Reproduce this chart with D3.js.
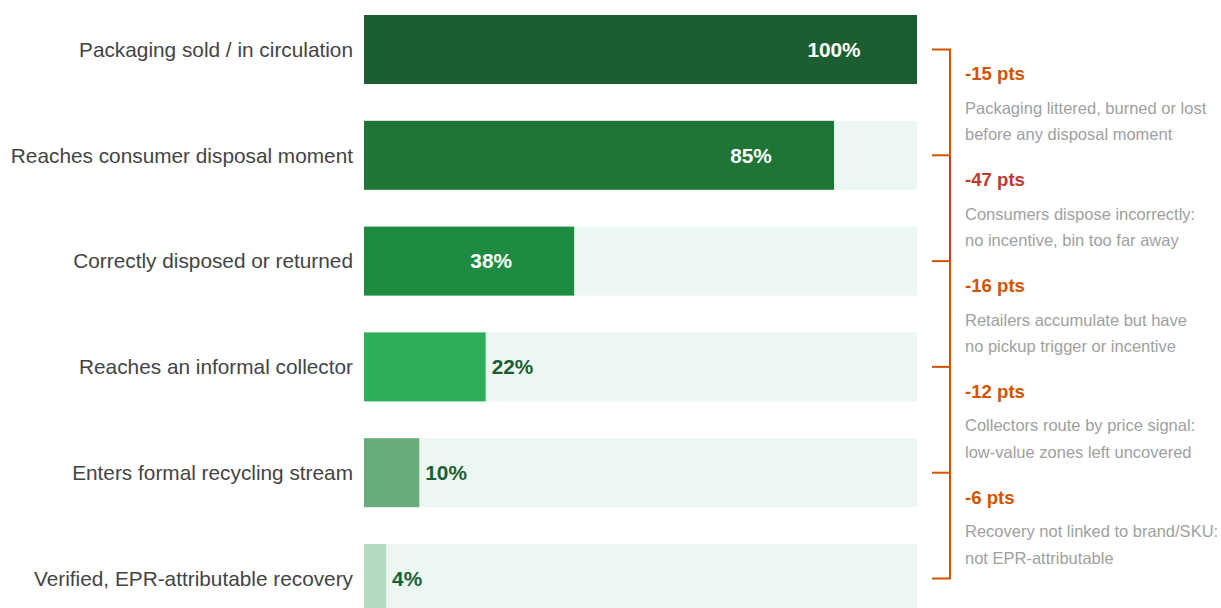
<!DOCTYPE html>
<html>
<head>
<meta charset="utf-8">
<script src="https://cdn.jsdelivr.net/npm/d3@7"></script>
<style>
  html, body { margin: 0; padding: 0; background: #fff; }
  svg { display: block; font-family: "Liberation Sans", Arial, sans-serif; }
</style>
</head>
<body>
<div id="chart"></div>
<script>
const stages = [
  "Packaging sold / in circulation",
  "Reaches consumer disposal moment",
  "Correctly disposed or returned",
  "Reaches an informal collector",
  "Enters formal recycling stream",
  "Verified, EPR-attributable recovery"
];
const shares = [100, 85, 38, 22, 10, 4];
const barColors = ["#1b5e31", "#1e7536", "#1d8c41", "#2eb058", "#68ab7d", "#b2dbbf"];

const dropLabels = ["-15 pts", "-47 pts", "-16 pts", "-12 pts", "-6 pts"];
const dropReasons = [
  ["Packaging littered, burned or lost", "before any disposal moment"],
  ["Consumers dispose incorrectly:", "no incentive, bin too far away"],
  ["Retailers accumulate but have", "no pickup trigger or incentive"],
  ["Collectors route by price signal:", "low-value zones left uncovered"],
  ["Recovery not linked to brand/SKU:", "not EPR-attributable"]
];

const width = 1221, height = 608;
const orange = "#d35400", red = "#c0392b";

const svg = d3.select("#chart").append("svg")
  .attr("width", width)
  .attr("height", height);

const x = d3.scaleLinear().domain([0, 100]).range([364, 917]);
const y = d3.scaleBand().domain(stages).range([15, 613]).paddingInner(0.348).paddingOuter(0);

const data = stages.map((s, i) => ({ stage: s, value: shares[i], color: barColors[i] }));

// track
svg.selectAll(".track")
  .data(data)
  .join("rect")
  .attr("x", x(0))
  .attr("y", d => y(d.stage))
  .attr("width", x(100) - x(0))
  .attr("height", y.bandwidth())
  .attr("fill", "#edf7f1");

// bars
svg.selectAll(".bar")
  .data(data)
  .join("rect")
  .attr("x", x(0))
  .attr("y", d => y(d.stage))
  .attr("width", d => x(d.value) - x(0))
  .attr("height", y.bandwidth())
  .attr("fill", d => d.color);

// category labels
svg.selectAll(".cat")
  .data(data)
  .join("text")
  .attr("x", 353)
  .attr("y", d => y(d.stage) + y.bandwidth() / 2)
  .attr("dy", "0.35em")
  .attr("text-anchor", "end")
  .style("font-size", "20.8px")
  .style("fill", "#444")
  .text(d => d.stage);

// value labels
svg.selectAll(".val")
  .data(data)
  .join("text")
  .attr("x", d => d.value > 30 ? x(d.value) - 83 : x(d.value) + 6)
  .attr("y", d => y(d.stage) + y.bandwidth() / 2)
  .attr("dy", "0.35em")
  .attr("text-anchor", d => d.value > 30 ? "middle" : "start")
  .style("font-size", "20.8px")
  .style("font-weight", "bold")
  .style("fill", d => d.value > 30 ? "#fff" : "#1b5e31")
  .text(d => d.value + "%");

// bracket
const bx0 = 932, bx1 = 950;
const centers = stages.map(s => y(s) + y.bandwidth() / 2);
const drops = shares.slice(1).map((v, i) => shares[i] - v);
const maxDrop = d3.max(drops);

svg.selectAll(".seg")
  .data(drops)
  .join("line")
  .attr("x1", bx1).attr("x2", bx1)
  .attr("y1", (d, i) => centers[i])
  .attr("y2", (d, i) => centers[i + 1])
  .attr("stroke", d => d === maxDrop ? red : orange)
  .attr("stroke-width", 2);

svg.selectAll(".tick")
  .data(centers)
  .join("line")
  .attr("x1", bx0).attr("x2", bx1 + 1)
  .attr("y1", d => d).attr("y2", d => d)
  .attr("stroke", orange)
  .attr("stroke-width", 2);

const notes = svg.selectAll(".note")
  .data(drops)
  .join("g")
  .attr("transform", (d, i) => `translate(965,${centers[i]})`);

notes.append("text")
  .attr("y", 31)
  .style("font-size", "18.6px")
  .style("font-weight", "bold")
  .style("fill", d => d === maxDrop ? red : orange)
  .text((d, i) => dropLabels[i]);

notes.each(function(d, i) {
  d3.select(this).selectAll(".reason")
    .data(dropReasons[i])
    .join("text")
    .attr("y", (t, j) => 64.5 + j * 26.5)
    .style("font-size", "16.5px")
    .style("fill", "#a0a0a0")
    .text(t => t);
});
</script>
</body>
</html>
